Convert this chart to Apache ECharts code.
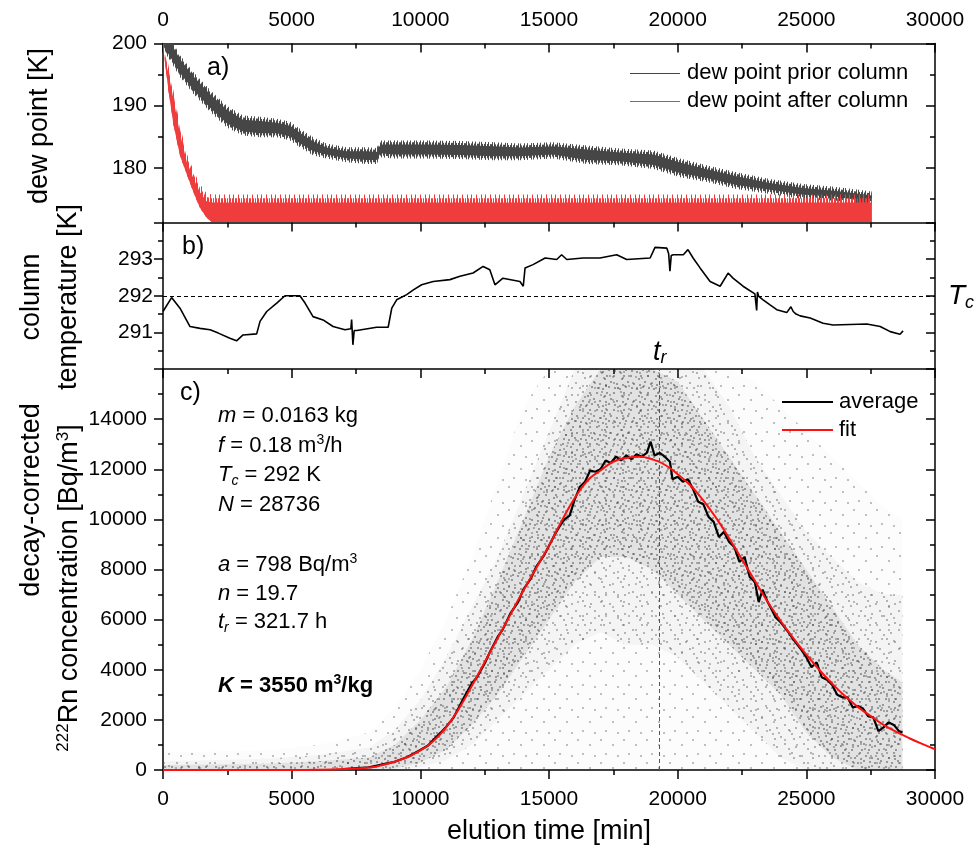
<!DOCTYPE html>
<html><head><meta charset="utf-8">
<script src="https://cdn.jsdelivr.net/npm/echarts@6/dist/echarts.min.js"></script>
<style>html,body{margin:0;padding:0;background:#fff}#c{width:978px;height:853px}</style>
</head><body><div id="c"></div>
<script>
// ---------- panel a: dew point (noise envelopes) ----------
const priorX     = [0, 270, 660, 1180, 1830, 2480, 3110, 3770, 4420, 4940, 5320, 5840, 6350, 7130, 7920, 8300, 8450, 8950, 10250, 11540, 12840, 13870, 15170, 16470, 17760, 19060, 20090, 21130, 22290, 23580, 24880, 26180, 27340, 27540];
const priorUpper = [203, 201, 198.1, 195.4, 192.5, 190.0, 188.4, 188.2, 187.9, 187.4, 186.3, 184.9, 183.9, 183.3, 183.3, 183.2, 184.4, 184.4, 184.4, 184.3, 184.1, 183.9, 184.1, 183.6, 183.1, 182.8, 181.5, 180.4, 179.3, 178.2, 177.4, 176.9, 176.3, 176.2];
const priorLower = [199, 197.3, 194.6, 191.9, 189.0, 186.5, 185.2, 184.9, 184.9, 184.4, 183.3, 182.0, 181.5, 180.9, 180.6, 180.6, 181.7, 181.5, 181.5, 181.4, 181.2, 181.2, 181.5, 180.6, 180.4, 179.8, 178.5, 177.7, 176.6, 175.8, 175.0, 174.7, 173.9, 174.0];
const afterX     = [0, 13, 210, 400, 660, 920, 1180, 1430, 1690, 1890, 2100, 27540];
const afterUpper = [200.5, 200, 196.5, 192.5, 186.8, 182.3, 179.6, 177.4, 175.9, 175.7, 175.7, 175.7];
const afterLower = [199.5, 199, 192.5, 187.1, 182.0, 179.0, 176.1, 173.6, 172.0, 171.3, 171.3, 171.3];

// ---------- panel b: column temperature ----------
const tempX = [0, 335, 660, 1050, 1440, 1830, 2150, 2600, 2860, 3110, 3640, 3770, 4030, 4420, 4740, 5320, 5520, 5830, 6220, 6610, 7070, 7300, 7330, 7380, 7430, 7530, 8300, 8750, 8890, 9080, 9470, 9730, 10050, 10500, 11150, 11540, 12050, 12440, 12700, 12900, 13210, 13870, 14000, 14070, 14380, 14850, 15300, 15490, 15690, 16330, 16980, 17630, 18020, 18930, 19120, 19580, 19650, 19700, 19750, 19830, 20220, 20400, 20600, 20870, 21260, 21650, 21960, 22150, 22540, 23000, 23070, 23100, 23150, 23320, 23590, 23850, 24240, 24400, 24490, 24600, 24760, 25150, 25650, 26040, 27350, 27870, 28260, 28640, 28760];
const tempY = [291.57, 291.95, 291.66, 291.16, 291.11, 291.07, 290.98, 290.84, 290.77, 290.93, 290.96, 291.3, 291.57, 291.8, 292.0, 292.0, 291.8, 291.43, 291.34, 291.16, 291.07, 291.1, 291.35, 290.66, 291.05, 291.05, 291.14, 291.14, 291.66, 291.89, 292.03, 292.16, 292.3, 292.39, 292.44, 292.53, 292.62, 292.8, 292.71, 292.3, 292.48, 292.39, 292.26, 292.76, 292.85, 293.03, 292.99, 293.12, 292.99, 293.03, 293.03, 293.12, 292.99, 293.03, 293.32, 293.3, 293.15, 292.67, 293.1, 293.12, 293.12, 293.26, 293.03, 292.76, 292.39, 292.26, 292.62, 292.48, 292.26, 292.05, 291.6, 292.1, 291.98, 291.89, 291.75, 291.62, 291.54, 291.7, 291.57, 291.5, 291.45, 291.39, 291.25, 291.2, 291.23, 291.16, 291.02, 290.95, 291.04];
const TC = 292;

// ---------- panel c: Rn concentration ----------
const cloudX     = [0, 4000, 6000, 8000, 9000, 10000, 11000, 12000, 13000, 14000, 15000, 16000, 17000, 18000, 19000, 20000, 21000, 22000, 23000, 24000, 25000, 26000, 27000, 28000, 28736];
const sparseHigh = [700, 800, 1000, 1500, 2500, 4000, 6000, 8500, 11500, 14500, 16000, 16000, 16000, 16000, 16000, 16000, 16000, 16000, 15500, 14500, 13500, 12500, 11500, 10500, 10000];
const medLow     = [0, 0, 0, 0, 0, 100, 400, 1000, 2000, 3000, 4000, 5000, 5500, 5000, 5000, 4500, 3500, 2500, 1500, 500, 0, 0, 0, 0, 0];
const medHigh    = [350, 450, 600, 900, 1600, 2800, 4500, 6500, 8500, 11000, 13500, 16000, 16000, 16000, 16000, 16000, 16000, 14500, 12500, 11000, 9500, 8500, 7500, 7000, 7000];
const denseLow   = [0, 0, 0, 0, 50, 300, 800, 1800, 3000, 4500, 6000, 7500, 8500, 8500, 8000, 7000, 6000, 5000, 4000, 3000, 1500, 500, 0, 0, 0];
const denseHigh  = [200, 250, 350, 500, 1000, 2000, 3300, 5200, 7500, 10000, 12500, 14500, 16000, 16000, 16000, 15500, 14000, 12500, 11000, 9500, 8000, 6500, 5000, 4000, 3500];

const fitX = [0, 5000, 6000, 7000, 8000, 8500, 9000, 9500, 10000, 10500, 11000, 11500, 12000, 12500, 13000, 13500, 14000, 14500, 15000, 15500, 16000, 16500, 17000, 17500, 18000, 18500, 19000, 19500, 20000, 20500, 21000, 21500, 22000, 22500, 23000, 23500, 24000, 24500, 25000, 25500, 26000, 26500, 27000, 27500, 28000, 28500, 29000, 29500, 30000];
const fitY = [0, 0, 10, 40, 100, 190, 330, 520, 780, 1150, 1700, 2450, 3350, 4300, 5250, 6200, 7150, 8050, 8950, 9950, 10850, 11550, 11950, 12300, 12450, 12500, 12400, 12180, 11800, 11350, 10750, 10050, 9250, 8400, 7550, 6700, 5950, 5250, 4600, 4000, 3450, 2950, 2520, 2150, 1800, 1520, 1270, 1040, 830];

const avgX = [7000, 8000, 9000, 9500, 10000, 10300, 10500, 10800, 11000, 11300, 11500, 11700, 12000, 12200, 12500, 12700, 13000, 13200, 13500, 13800, 14000, 14300, 14500, 14800, 15000, 15200, 15400, 15600, 15800, 16000, 16200, 16400, 16600, 16800, 17000, 17200, 17400, 17600, 17800, 18000, 18200, 18400, 18600, 18800, 18950, 19100, 19300, 19500, 19700, 19800, 20000, 20200, 20400, 20600, 20800, 21000, 21200, 21400, 21600, 21800, 22000, 22200, 22400, 22600, 22800, 23000, 23150, 23300, 23500, 23800, 24000, 24300, 24500, 24800, 25000, 25200, 25400, 25600, 25800, 26000, 26200, 26400, 26600, 26800, 27000, 27200, 27400, 27600, 27800, 28000, 28200, 28400, 28600, 28736];
const avgY = [40, 110, 330, 520, 800, 980, 1200, 1500, 1720, 2100, 2500, 2900, 3450, 3700, 4250, 4700, 5300, 5600, 6250, 6700, 7200, 7650, 8100, 8550, 8950, 9350, 9700, 10000, 10150, 10800, 11300, 11500, 11950, 11900, 12000, 12350, 12250, 12500, 12350, 12550, 12400, 12600, 12500, 12650, 13100, 12550, 12650, 12500, 12300, 11600, 11700, 11500, 11600, 11200, 10700, 10600, 10100, 9900, 9300, 9500, 9100, 8900, 8300, 8500, 7700, 7500, 6700, 7200, 6700, 6100, 5900, 5500, 5200, 4800, 4500, 4100, 4300, 3700, 3600, 3400, 3000, 2900, 2900, 2500, 2550, 2450, 2150, 2100, 1550, 1700, 1900, 1800, 1550, 1500];
const TR_MIN = 19302; // t_r = 321.7 h

const xTicks = {min: 0, max: 30000, interval: 5000};
const annot = [
  '{i|m} = 0.0163 kg',
  '{i|f} = 0.18 m{sup|3}/h',
  '{i|T}{sub|c} = 292 K',
  '{i|N} = 28736',
  '{i|a} = 798 Bq/m{sup|3}',
  '{i|n} = 19.7',
  '{i|t}{sub|r} = 321.7 h',
  '{bi|K}{b| = 3550 m}{bsup|3}{b|/kg}'
];
const annotY = [416, 446, 475, 505, 565, 594, 622, 686];

// ---------- helpers ----------
const FF = 'Liberation Sans, Arial, sans-serif';
const zip = (xs, ys) => xs.map((x, i) => [x, ys[i]]);
function makeTile(size, dots, bg, dot) {
  const c = document.createElement('canvas'); c.width = c.height = size;
  const g = c.getContext('2d');
  if (bg) { g.fillStyle = bg; g.fillRect(0, 0, size, size); }
  g.fillStyle = dot;
  dots.forEach(d => g.fillRect(d[0], d[1], 2, 2));
  return c;
}
// vertical hair texture for the noisy dew-point traces
function stripeTile(cols, color, w) {
  const c = document.createElement('canvas'); c.width = w; c.height = 4;
  const g = c.getContext('2d'); g.fillStyle = color;
  cols.forEach(k => g.fillRect(k, 0, 1, 4));
  return c;
}
const tileA = makeTile(23, [[2,3],[14,8],[7,17],[19,19]], 'rgba(0,0,0,0.012)', 'rgba(90,90,90,0.38)');
const tileB = makeTile(19, [[5,2],[12,11],[1,14],[16,5],[9,7],[14,16]], 'rgba(0,0,0,0.03)', 'rgba(80,80,80,0.4)');
const tileC = makeTile(17, [[1,1],[9,4],[4,9],[13,12],[7,14],[15,7],[11,1],[2,13],[10,10]], 'rgba(0,0,0,0.07)', 'rgba(60,60,60,0.45)');
const grayOuter = stripeTile([0, 4, 7, 11], '#4a4a4a', 13);
const grayInner = stripeTile([0, 1, 3, 4, 6, 7, 9, 10, 11], '#4a4a4a', 13);
const redOuter = stripeTile([0, 5, 9], '#ef3c3c', 14);
const redInner = stripeTile([0, 1, 3, 5, 6, 8, 9, 11, 12], '#ef3c3c', 14);

// band polygon between lo and hi drawn through the axes (custom series)
function bandSeries(xi, yi, xs, lo, hi, fill, z, loInset, hiInset) {
  const li = loInset || 0, hiI = hiInset || 0;
  return {type: 'custom', xAxisIndex: xi, yAxisIndex: yi, z: z, silent: true, clip: true,
    data: [[xs[0], Math.max(lo[0], 0)]],
    renderItem: function (params, api) {
      const pts = xs.map((x, i) => api.coord([x, hi[i] - hiI]));
      for (let i = xs.length - 1; i >= 0; i--) pts.push(api.coord([xs[i], lo[i] + li]));
      return {type: 'polygon', shape: {points: pts}, style: {fill: fill, stroke: null}};
    }};
}
const zeroArr = cloudX.map(() => 0);
const pat = c => ({image: c, repeat: 'repeat'});

const axisLineStyle = {color: '#000', width: 1.5};
const fmt = v => String(v);
function xAx(grid, pos, labels, inside) {
  return Object.assign({type: 'value', gridIndex: grid, position: pos}, xTicks, {
    axisLine: {show: true, onZero: false, lineStyle: axisLineStyle},
    axisTick: {show: true, inside: inside, length: 9, lineStyle: {color: '#000', width: 1.5}},
    minorTick: {show: true, splitNumber: 2, length: 5, lineStyle: {color: '#000', width: 1.5}},
    axisLabel: {show: labels, formatter: fmt, fontFamily: FF, fontSize: 21, color: '#000', margin: pos === 'top' ? 13 : 19},
    splitLine: {show: false}
  });
}
function yCustom(grid, pos, labelVals, tickVals, len, inside, showLine) {
  return {type: 'value', gridIndex: grid, position: pos, min: 171.2, max: 200,
    axisLine: {show: showLine, onZero: false, lineStyle: axisLineStyle},
    axisTick: {show: true, inside: inside, length: len, customValues: tickVals, lineStyle: {color: '#000', width: 1.5}},
    axisLabel: {show: labelVals.length > 0, customValues: labelVals, formatter: fmt, fontFamily: FF, fontSize: 21, color: '#000', margin: 16},
    splitLine: {show: false}};
}
function yReg(grid, pos, min, max, interval, labels, inside, margin) {
  return {type: 'value', gridIndex: grid, position: pos, min: min, max: max, interval: interval,
    axisLine: {show: true, onZero: false, lineStyle: axisLineStyle},
    axisTick: {show: true, inside: inside, length: 9, lineStyle: {color: '#000', width: 1.5}},
    minorTick: {show: true, splitNumber: 2, length: 5, lineStyle: {color: '#000', width: 1.5}},
    axisLabel: {show: labels, formatter: fmt, showMinLabel: grid === 2, showMaxLabel: false, fontFamily: FF, fontSize: 21, color: '#000', margin: margin},
    splitLine: {show: false}};
}

const series = [];
// panel a
series.push(bandSeries(0, 0, priorX, priorLower, priorUpper, pat(grayOuter), 2));
series.push(bandSeries(0, 0, priorX, priorLower, priorUpper, pat(grayInner), 2, 0.3, 0.3));
series.push(bandSeries(0, 0, priorX, priorLower, priorUpper, '#464646', 3, 0.65, 0.65));
series.push(bandSeries(0, 0, afterX, afterLower, afterUpper, pat(redOuter), 4));
series.push(bandSeries(0, 0, afterX, afterLower, afterUpper, pat(redInner), 4, 0, 0.6));
series.push(bandSeries(0, 0, afterX, afterLower, afterUpper, '#ef3c3c', 5, 0, 1.3));
// panel b
series.push({type: 'line', xAxisIndex: 2, yAxisIndex: 4, symbol: 'none', z: 5,
  lineStyle: {color: '#000', width: 1.6}, data: zip(tempX, tempY),
  markLine: {silent: true, symbol: 'none', label: {show: false},
    lineStyle: {color: '#000', width: 1, type: [4, 3]}, data: [{yAxis: TC}]}});
// panel c cloud
series.push(bandSeries(3, 6, cloudX, zeroArr, sparseHigh, pat(tileA), 2));
series.push(bandSeries(3, 6, cloudX, medLow, medHigh, pat(tileB), 3));
series.push(bandSeries(3, 6, cloudX, denseLow, denseHigh, pat(tileC), 4));
series.push({type: 'line', xAxisIndex: 3, yAxisIndex: 6, symbol: 'none', z: 6,
  lineStyle: {color: '#000', width: 2.2}, data: zip(avgX, avgY)});
series.push({type: 'line', xAxisIndex: 3, yAxisIndex: 6, symbol: 'none', smooth: true, z: 7,
  lineStyle: {color: '#ff1010', width: 2}, data: zip(fitX, fitY),
  markLine: {silent: true, symbol: 'none', label: {show: false},
    lineStyle: {color: '#555', width: 1, type: [4, 3]}, data: [{xAxis: TR_MIN}]}});

// text
const T = (x, y, text, size, extra) => Object.assign({type: 'text', x: x, y: y, z: 100,
  style: Object.assign({text: text, fontFamily: FF, fontSize: size, fill: '#000', textVerticalAlign: 'middle'}, extra || {})});
const richAnn = {
  i: {fontFamily: FF, fontSize: 22, fontStyle: 'italic', lineHeight: 26},
  sup: {fontFamily: FF, fontSize: 14, lineHeight: 14, verticalAlign: 'top'},
  sub: {fontFamily: FF, fontSize: 14, fontStyle: 'italic', lineHeight: 14, verticalAlign: 'bottom'},
  b: {fontFamily: FF, fontSize: 22, fontWeight: 'bold', lineHeight: 26},
  bi: {fontFamily: FF, fontSize: 22, fontWeight: 'bold', fontStyle: 'italic', lineHeight: 26},
  bsup: {fontFamily: FF, fontSize: 14, fontWeight: 'bold', lineHeight: 14, verticalAlign: 'top'}
};
const graphics = [];
annot.forEach((s, k) => graphics.push(T(218, annotY[k], s, 22, {rich: richAnn, lineHeight: 26})));
graphics.push(T(207, 68, 'a)', 25), T(182, 247, 'b)', 25), T(180, 393, 'c)', 25));
graphics.push(T(549, 832, 'elution time [min]', 27, {textAlign: 'center'}));
const rot = (x, y, text, rich) => ({type: 'text', x: x, y: y, rotation: Math.PI / 2, z: 100,
  style: {text: text, fontFamily: FF, fontSize: 27, fill: '#000', textAlign: 'center', textVerticalAlign: 'middle', rich: rich}});
const richTitle = {n: {fontFamily: FF, fontSize: 27, lineHeight: 30}, sup: {fontFamily: FF, fontSize: 17, lineHeight: 17, verticalAlign: 'top'}};
graphics.push(rot(40, 126, 'dew point [K]'));
graphics.push(rot(32, 297, 'column'));
graphics.push(rot(69, 297, 'temperature [K]'));
graphics.push(rot(32, 500, 'decay-corrected'));
graphics.push(rot(70, 588, '{sup|222}{n|Rn concentration [Bq/m}{sup|3}{n|]}', richTitle));
// T_c and t_r labels
graphics.push(T(948, 296, '{t|T}{s|c}', 27, {rich: {t: {fontFamily: FF, fontSize: 28, fontStyle: 'italic', lineHeight: 32}, s: {fontFamily: FF, fontSize: 18, fontStyle: 'italic', lineHeight: 18, verticalAlign: 'bottom'}}}));
graphics.push(T(653, 352, '{t|t}{s|r}', 26, {rich: {t: {fontFamily: FF, fontSize: 27, fontStyle: 'italic', lineHeight: 30}, s: {fontFamily: FF, fontSize: 18, fontStyle: 'italic', lineHeight: 18, verticalAlign: 'bottom'}}}));
// legends
const L = (x1, x2, y, color, w) => ({type: 'line', z: 100, shape: {x1: x1, y1: y, x2: x2, y2: y}, style: {stroke: color, lineWidth: w}});
graphics.push(L(630, 680, 73.5, '#444', 1), T(687, 73, 'dew point prior column', 22));
graphics.push(L(630, 680, 101.5, '#f03c3c', 1), T(687, 101, 'dew point after column', 22));
graphics.push(L(782, 833, 402, '#000', 2), T(839, 402, 'average', 22));
graphics.push(L(782, 833, 430, '#ff1010', 2), T(839, 430, 'fit', 22));

const option = {
  animation: false,
  backgroundColor: '#fff',
  grid: [
    {left: 163, width: 772, top: 43.5, height: 179},
    {left: 163, width: 772, top: 222.5, height: 146.5},
    {left: 163, width: 772, top: 369, height: 401}
  ],
  xAxis: [xAx(0, 'top', true, true), xAx(0, 'bottom', false, false), xAx(1, 'bottom', false, false), xAx(2, 'bottom', true, false)],
  yAxis: [
    yCustom(0, 'left', [180, 190, 200], [180, 190, 200], 9, false, true),
    yCustom(0, 'left', [], [175, 185, 195], 5, false, false),
    yCustom(0, 'right', [], [180, 190, 200], 9, true, true),
    yCustom(0, 'right', [], [175, 185, 195], 5, true, false),
    yReg(1, 'left', 290, 294, 1, true, false, 10),
    yReg(1, 'right', 290, 294, 1, false, true, 10),
    yReg(2, 'left', 0, 16000, 2000, true, false, 16),
    yReg(2, 'right', 0, 16000, 2000, false, true, 16)
  ],
  series: series,
  graphic: graphics
};
const chart = echarts.init(document.getElementById('c'), null, {renderer: 'canvas'});
chart.setOption(option);
</script></body></html>
